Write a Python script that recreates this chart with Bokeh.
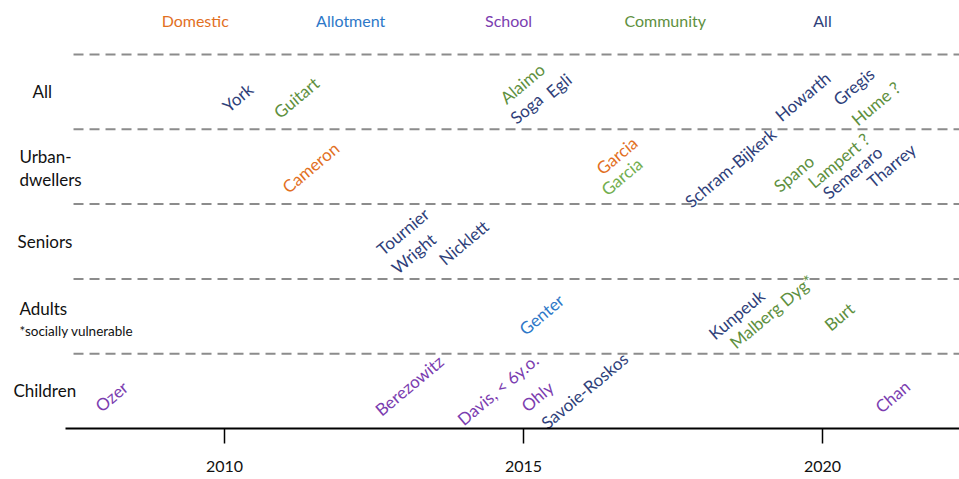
from bokeh.plotting import figure
from bokeh.models import ColumnDataSource, FixedTicker, Range1d
from bokeh.core.properties import value
from bokeh.embed import file_html
from bokeh.resources import INLINE

FONT = "Lato"

# ---- categories -------------------------------------------------------
kinds = ["Domestic", "Allotment", "School", "Community", "All"]
kind_colors = {
    "Domestic": "#E2701F",
    "Allotment": "#2E78C8",
    "School": "#7B3DB0",
    "Community": "#5E9040",
    "Community light": "#72AE4E",
    "All": "#2F3F7A",
}
header_years = [2009.51, 2012.11, 2014.75, 2017.37, 2020.0]

rows = ["Children", "Adults", "Seniors", "Urban-dwellers", "All"]
row_labels = ["Children", "Adults", "*socially vulnerable", "Seniors",
              "Urban-", "dwellers", "All"]
row_label_rows = ["Children", "Adults", "Adults", "Seniors",
                  "Urban-dwellers", "Urban-dwellers", "All"]
row_label_offsets = [0.51, 0.60, 0.30, 0.50, 0.63, 0.33, 0.50]
row_label_years = [2006.47, 2006.57, 2006.57, 2006.54, 2006.57, 2006.57, 2006.79]
row_label_sizes = ["17px", "17px", "13.5px", "17px", "17px", "17px", "17px"]

# ---- studies ----------------------------------------------------------
names = [
    "York", "Guitart", "Alaimo", "Soga", "Egli", "Howarth", "Gregis", "Hume ?",
    "Cameron", "Garcia", "Garcia", "Schram-Bijkerk", "Spano", "Lampert ?",
    "Semeraro", "Tharrey",
    "Tournier", "Wright", "Nicklett",
    "Genter", "Kunpeuk", "Malberg Dyg*", "Burt",
    "Ozer", "Berezowitz", "Davis, < 6y.o.", "Ohly", "Savoie-Roskos", "Chan",
]
years = [
    2010.22, 2011.20, 2014.98, 2015.05, 2015.59, 2019.67, 2020.52, 2020.89,
    2011.44, 2016.56, 2016.64, 2018.46, 2019.52, 2020.27, 2020.50, 2021.15,
    2012.98, 2013.16, 2014.00,
    2015.30, 2018.56, 2019.15, 2020.28,
    2008.11, 2013.09, 2014.57, 2015.23, 2016.02, 2021.17,
]
study_rows = (["All"] * 8 + ["Urban-dwellers"] * 8 + ["Seniors"] * 3
              + ["Adults"] * 4 + ["Children"] * 6)
offsets = [
    0.425, 0.425, 0.612, 0.278, 0.586, 0.439, 0.572, 0.345,
    0.489, 0.650, 0.369, 0.489, 0.409, 0.583, 0.422, 0.516,
    0.634, 0.340, 0.487,
    0.524, 0.524, 0.564, 0.497,
    0.428, 0.575, 0.521, 0.428, 0.508, 0.428,
]
study_kinds = [
    "All", "Community", "Community", "All", "All", "All", "All", "Community",
    "Domestic", "Domestic", "Community light", "All", "Community", "Community",
    "All", "All",
    "All", "All", "All",
    "Allotment", "All", "Community", "Community",
    "School", "School", "School", "School", "All", "School",
]

# ---- figure -----------------------------------------------------------
x_start, x_end = 2006.254, 2022.291
p = figure(width=959, height=479, output_backend="svg", toolbar_location=None,
           x_range=Range1d(x_start, x_end), y_range=Range1d(0, 5.722),
           y_axis_location=None, min_border_left=0, min_border_right=0,
           min_border_top=0, min_border_bottom=51, outline_line_color=None)
p.grid.visible = False
p.background_fill_color = "white"
p.border_fill_color = "white"

ax = p.xaxis[0]
ax.ticker = FixedTicker(ticks=[2010, 2015, 2020])
ax.bounds = (2007.34, x_end)
ax.axis_line_color = "black"
ax.axis_line_width = 2
ax.major_tick_line_color = "black"
ax.major_tick_line_width = 1.5
ax.major_tick_out = 15
ax.major_tick_in = 0
ax.minor_tick_out = 0
ax.minor_tick_in = 0
ax.major_label_standoff = 17
ax.major_label_text_font = FONT
ax.major_label_text_font_size = "16px"
ax.major_label_text_color = "#111111"

row_index = {r: i for i, r in enumerate(rows)}

# separators between rows
bounds_y = [row_index[r] + 1 for r in rows]
p.segment(x0=[2007.475] * len(bounds_y), x1=[x_end] * len(bounds_y),
          y0=bounds_y, y1=bounds_y, line_color="#8C8C8C", line_width=2,
          line_dash="10 6")

# header (category colours)
p.text(x=header_years, y=[5.455] * len(kinds), text=kinds,
       text_color=[kind_colors[k] for k in kinds], text_font=value(FONT),
       text_font_size="16px", text_align="center", text_baseline="middle")

# row labels
rl_src = ColumnDataSource(dict(
    x=row_label_years,
    y=[row_index[r] + o for r, o in zip(row_label_rows, row_label_offsets)],
    text=row_labels, size=row_label_sizes))
p.text(x="x", y="y", text="text", source=rl_src, text_color="#111111",
       text_font=value(FONT), text_font_size="size", text_align="left",
       text_baseline="middle")

# study labels
src = ColumnDataSource(dict(
    x=years,
    y=[row_index[r] + o for r, o in zip(study_rows, offsets)],
    text=names,
    color=[kind_colors[k] for k in study_kinds]))
p.text(x="x", y="y", text="text", source=src, text_color="color",
       text_font=value(FONT), text_font_size="17px", text_align="center",
       text_baseline="middle", angle=40, angle_units="deg")

open("out.html", "w").write(file_html(p, INLINE))
